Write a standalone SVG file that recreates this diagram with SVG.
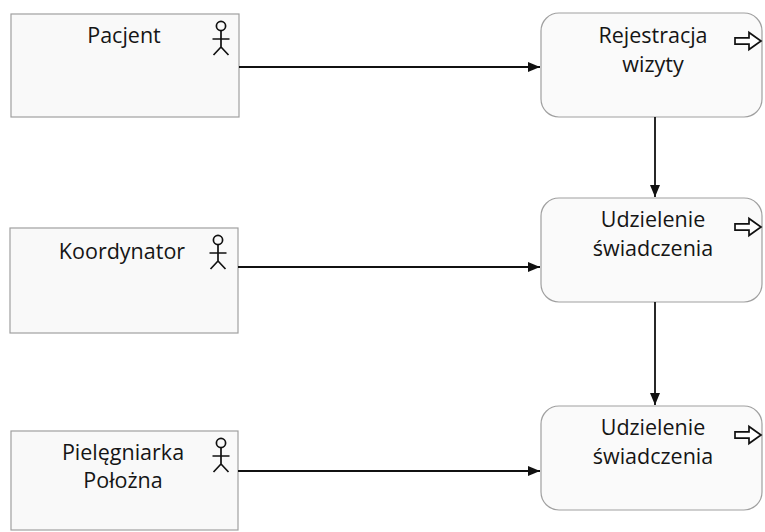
<svg xmlns="http://www.w3.org/2000/svg" width="765" height="532" viewBox="0 0 765 532">
<defs>
<style>
.role{fill:#f9f9f9;stroke:#a0a0a0;stroke-width:1.2}
.proc{fill:#fafafa;stroke:#a0a0a0;stroke-width:1.2}
.t{font-family:"Open Sans","Noto Sans",sans-serif;font-size:21.5px;fill:#151515;text-anchor:middle}
.actor{fill:none;stroke:#111;stroke-width:1.7}
.conn{stroke:#111;stroke-width:1.8;fill:none}
.icon{fill:#fff;stroke:#111;stroke-width:1.7;stroke-linejoin:miter}
</style>
<marker id="ah" viewBox="0 0 10 10" refX="10" refY="5" markerWidth="12" markerHeight="10" markerUnits="userSpaceOnUse" orient="auto" preserveAspectRatio="none">
<path d="M0,0 L10,5 L0,10 z" fill="#111"/>
</marker>
<g id="actorIcon">
<circle cx="0" cy="0" r="4.6" class="actor"/>
<path d="M0,4.6 V21 M-8.5,13 H8.5 M0,21 L-7.5,29 M0,21 L7.5,29" class="actor"/>
</g>
<path id="arrowIcon" d="M0,-3.2 H14 V-8.5 L26,0 L14,8.5 V3.2 H0 z"/>
</defs>
<g id="pacjent">
<rect x="11" y="14" width="228" height="103" class="role"/>
<text x="124" y="43" class="t">Pacjent</text>
<use href="#actorIcon" x="221" y="26"/>
</g>
<g id="koordynator">
<rect x="10" y="228" width="228" height="105" class="role"/>
<text x="122" y="259" class="t">Koordynator</text>
<use href="#actorIcon" x="218" y="240"/>
</g>
<g id="pielegniarka">
<rect x="11" y="431" width="227" height="99" class="role"/>
<text x="123" y="460" class="t">Pielęgniarka</text>
<text x="123" y="488" class="t">Położna</text>
<use href="#actorIcon" x="221" y="443"/>
</g>
<g id="rejestracja">
<rect x="541" y="13" width="221" height="104" rx="18" class="proc"/>
<text x="653" y="43" class="t">Rejestracja</text>
<text x="653" y="72" class="t">wizyty</text>
<use href="#arrowIcon" x="735" y="41" class="icon"/>
</g>
<g id="udzielenie1">
<rect x="541" y="198" width="221" height="104" rx="18" class="proc"/>
<text x="653" y="227" class="t">Udzielenie</text>
<text x="653" y="256" class="t">świadczenia</text>
<use href="#arrowIcon" x="735" y="227" class="icon"/>
</g>
<g id="udzielenie2">
<rect x="541" y="406" width="221" height="104" rx="18" class="proc"/>
<text x="653" y="435" class="t">Udzielenie</text>
<text x="653" y="464" class="t">świadczenia</text>
<use href="#arrowIcon" x="735" y="435" class="icon"/>
</g>
<g id="connectors">
<path d="M239,67 H540" class="conn" marker-end="url(#ah)"/>
<path d="M238,267 H540" class="conn" marker-end="url(#ah)"/>
<path d="M238,471 H540" class="conn" marker-end="url(#ah)"/>
<path d="M655,117 V197" class="conn" marker-end="url(#ah)"/>
<path d="M655,302 V405" class="conn" marker-end="url(#ah)"/>
</g>
</svg>
